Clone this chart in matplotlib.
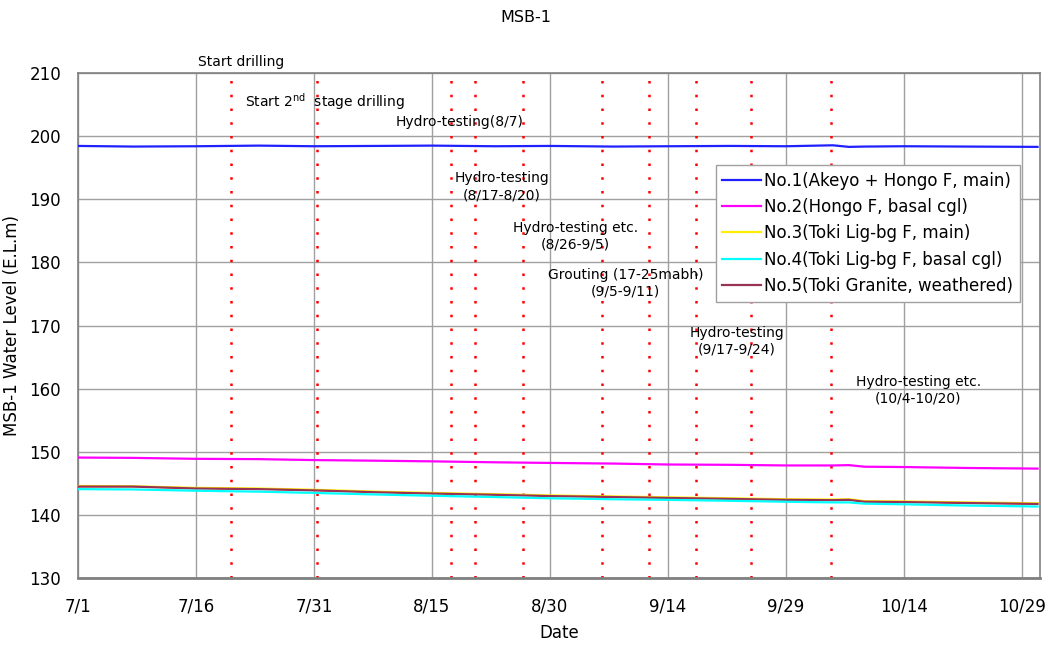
import pandas as pd
import matplotlib.pyplot as plt

# readings taken off the chart (E.L. m)
dates = ['2003-07-01', '2003-07-08', '2003-07-16', '2003-07-24', '2003-07-31',
         '2003-08-08', '2003-08-15', '2003-08-23', '2003-08-30', '2003-09-07',
         '2003-09-14', '2003-09-22', '2003-09-29', '2003-10-05', '2003-10-07',
         '2003-10-09', '2003-10-14', '2003-10-22', '2003-10-31']

no1 = [198.45, 198.35, 198.4, 198.5, 198.4, 198.45, 198.5, 198.4, 198.45, 198.35,
       198.4, 198.45, 198.4, 198.55, 198.3, 198.35, 198.4, 198.35, 198.3]
no2 = [149.1, 149.05, 148.9, 148.85, 148.7, 148.6, 148.5, 148.35, 148.25, 148.15,
       148.0, 147.95, 147.85, 147.85, 147.9, 147.65, 147.6, 147.45, 147.35]
no3 = [144.6, 144.55, 144.3, 144.2, 144.0, 143.7, 143.5, 143.3, 143.1, 142.95,
       142.8, 142.65, 142.5, 142.45, 142.5, 142.2, 142.15, 142.0, 141.85]
no4 = [144.1, 144.05, 143.85, 143.7, 143.5, 143.25, 143.05, 142.85, 142.65, 142.5,
       142.4, 142.25, 142.1, 142.0, 142.0, 141.8, 141.7, 141.5, 141.35]
no5 = [144.5, 144.5, 144.2, 144.1, 143.9, 143.6, 143.4, 143.2, 143.0, 142.85,
       142.7, 142.55, 142.4, 142.35, 142.4, 142.1, 142.05, 141.9, 141.75]

labels = ['No.1(Akeyo + Hongo F, main)', 'No.2(Hongo F, basal cgl)',
          'No.3(Toki Lig-bg F, main)', 'No.4(Toki Lig-bg F, basal cgl)',
          'No.5(Toki Granite, weathered)']
colors = ['#2020ff', '#ff00ff', '#ffee00', '#00ffff', '#993355']

# event markers (dotted red lines)
events = ['2003-07-20 10:00', '2003-07-31 10:00', '2003-08-17 12:00', '2003-08-20 12:00',
          '2003-08-26 14:00', '2003-09-05 14:00', '2003-09-11 14:00', '2003-09-17 14:00',
          '2003-09-24 14:00', '2003-10-04 19:00']

# annotation text: (text, date, level, alignment)
notes = [
    ('Start drilling', '2003-07-16 06:00', 211.7, 'left'),
    ('Start 2$^{\\mathrm{nd}}$  stage drilling', '2003-07-22 07:00', 205.4, 'left'),
    ('Hydro-testing(8/7)', '2003-08-18 12:00', 202.2, 'center'),
    ('Hydro-testing\n(8/17-8/20)', '2003-08-23 22:00', 192.0, 'center'),
    ('Hydro-testing etc.\n(8/26-9/5)', '2003-09-02 07:00', 184.2, 'center'),
    ('Grouting (17-25mabh)\n(9/5-9/11)', '2003-09-08 16:00', 176.7, 'center'),
    ('Hydro-testing\n(9/17-9/24)', '2003-09-22 18:00', 167.5, 'center'),
    ('Hydro-testing etc.\n(10/4-10/20)', '2003-10-15 20:00', 159.8, 'center'),
]

x = pd.to_datetime(dates)
series = [no1, no2, no3, no4, no5]

fig = plt.figure(figsize=(10.52, 6.46), dpi=100)
ax = fig.add_axes([0.074, 0.105, 0.9145, 0.782])

for ev in events:
    ax.axvline(pd.Timestamp(ev), color='red', linestyle=(0, (1, 4.5)), linewidth=1.8, zorder=1)

order = [0, 1, 2, 4, 3]
lines = {}
for i in order:
    lines[i], = ax.plot(x, series[i], color=colors[i], linewidth=1.6, label=labels[i], zorder=3)

for txt, d, lvl, ha in notes:
    ax.text(pd.Timestamp(d), lvl, txt, ha=ha, va='center', fontsize=10,
            linespacing=1.25, clip_on=False, zorder=4)

start = pd.Timestamp('2003-07-01')
ticks = [start + pd.Timedelta(days=15 * k) for k in range(9)]
ax.set_xticks(ticks)
ax.set_xticklabels([f'{t.month}/{t.day}' for t in ticks], fontsize=12)
ax.set_xlim(start, start + pd.Timedelta(days=122.3))
ax.set_ylim(130, 210)
ax.set_yticks(range(130, 211, 10))
ax.tick_params(axis='y', labelsize=12, length=0, pad=12)
ax.tick_params(axis='x', length=0, pad=14)
ax.grid(True, color='#a0a0a0', linewidth=1)
ax.set_axisbelow(True)
for s in ax.spines.values():
    s.set_color('#808080')
    s.set_linewidth(1.2)
ax.spines['bottom'].set_linewidth(2)

ax.set_xlabel('Date', fontsize=12, labelpad=6)
ax.set_ylabel('MSB-1 Water Level (E.L.m)', fontsize=12, labelpad=6)
fig.suptitle('MSB-1', fontsize=11.5, y=0.985)

leg = ax.legend([lines[i] for i in range(5)], labels, loc='upper right',
                bbox_to_anchor=(0.979, 0.818), borderaxespad=0, fontsize=12,
                frameon=True, fancybox=False, edgecolor='#a0a0a0', framealpha=1,
                handlelength=2.3, handletextpad=0.2, labelspacing=0.5, borderpad=0.4)
leg.set_zorder(5)

fig.savefig('out.png', dpi=100)
